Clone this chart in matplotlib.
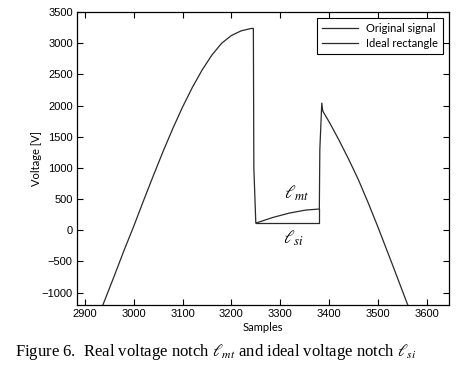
import matplotlib
matplotlib.use('Agg')
import matplotlib.pyplot as plt

plt.rcParams['mathtext.fontset'] = 'stix'

# samples / voltage
sig_n = [2937, 2960, 2980, 3000, 3020, 3040, 3060, 3080, 3100, 3120, 3140, 3160, 3180, 3200, 3220, 3240, 3245,
         3246, 3250, 3285, 3319, 3353, 3380, 3381, 3385, 3387, 3401, 3420, 3440, 3460, 3480, 3500, 3530, 3561]
sig_v = [-1200, -740, -330, 60, 470, 870, 1260, 1630, 1975, 2290, 2570, 2810, 3000, 3125, 3200, 3237, 3240,
         1000, 115, 206, 277, 325, 341, 1290, 2040, 1913, 1726, 1450, 1140, 810, 440, 50, -560, -1200]

rect_n = [3250, 3380, 3380]
rect_v = [110, 110, 341]

x_ticks = [2900, 3000, 3100, 3200, 3300, 3400, 3500, 3600]
y_ticks = [-1000, -500, 0, 500, 1000, 1500, 2000, 2500, 3000, 3500]

fig = plt.figure(figsize=(4.58, 3.68), dpi=100, facecolor='white')
ax = fig.add_axes([0.168, 0.171, 0.812, 0.796])

ax.plot(sig_n, sig_v, color='#2a2a2a', lw=0.9, label='Original signal')
ax.plot(rect_n, rect_v, color='#2a2a2a', lw=0.9, label='Ideal rectangle')

ax.set_xlim(2884, 3645)
ax.set_ylim(-1200, 3500)
ax.set_xticks(x_ticks)
ax.set_yticks(y_ticks)
ax.tick_params(direction='in', top=True, right=True, length=4, width=0.8,
               labelsize=8, pad=3)
for lab in ax.get_xticklabels() + ax.get_yticklabels():
    lab.set_family('Liberation Sans')
for sp in ax.spines.values():
    sp.set_linewidth(0.9)

ax.set_xlabel('Samples', family='Lato', fontsize=8, labelpad=2)
ax.set_ylabel('Voltage [V]', family='Lato', fontsize=8, labelpad=0)

ax.text(3333, 600, r'$\ell_{mt}$', fontsize=13, ha='center', va='center')
ax.text(3326, -126, r'$\ell_{si}$', fontsize=13, ha='center', va='center')

leg = ax.legend(loc='upper right', fancybox=False, edgecolor='black', framealpha=1,
                prop={'family': 'Lato', 'size': 8}, handlelength=3.2, borderpad=0.45,
                labelspacing=0.35, borderaxespad=0.5)
leg.get_frame().set_linewidth(0.8)

fig.text(0.033, 0.043, r'Figure 6.  Real voltage notch $\ell_{mt}$ and ideal voltage notch $\ell_{si}$',
         family='Liberation Serif', fontsize=12, ha='left', va='center')

fig.savefig('out.png', dpi=100)
